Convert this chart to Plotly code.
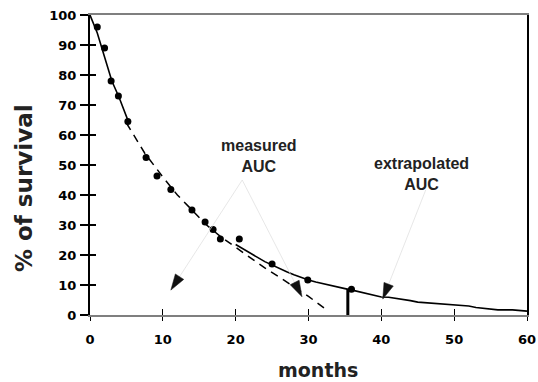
import plotly.graph_objects as go

# ---- data ----
obs_months = [1.0, 2.0, 2.9, 3.9, 5.2, 7.7, 9.2, 11.1, 14.0, 15.8, 16.9, 17.9, 20.5, 25.0, 29.9, 35.9]
obs_survival = [96, 89, 78, 73, 64.5, 52.5, 46.3, 41.8, 35, 31, 28.5, 25.3, 25.3, 17, 11.7, 8.6]

early_months = [0, 0.5, 1, 2, 3, 4, 5, 5.3]
early_survival = [100, 97, 94, 86, 78, 72.5, 66, 64.3]

late_months = [20, 21, 22, 23, 24, 25, 26, 27, 28, 29, 30, 31, 32, 33, 34, 35, 36, 38, 40, 41,
               42, 44, 45, 47, 49, 50, 52, 53, 55, 56, 58, 59, 60]
late_survival = [23.5, 22, 20.6, 19.2, 17.8, 16.6, 15.5, 14.4, 13.4, 12.5, 11.7, 11, 10.4, 9.8,
                 9.3, 8.8, 8.3, 7.2, 6, 5.9, 5.6, 4.8, 4.3, 4, 3.6, 3.3, 3, 2.5, 2.1, 1.7, 1.7, 1.5, 1.3]

fit_months = [5, 7.5, 10, 12, 14, 16, 18, 20, 22, 24, 26, 28, 30, 32.5]
fit_survival = [64, 54, 46, 40, 35, 30, 26, 22.5, 19, 15.7, 12.6, 9.4, 6.2, 1.7]

cutoff_month = 35.4
cutoff_survival = 8.7

x_ticks = [0, 10, 20, 30, 40, 50, 60]
y_ticks = [0, 10, 20, 30, 40, 50, 60, 70, 80, 90, 100]

# label anchors (data units) and arrow tips
measured_label = (20.9, 45)
extrap_label = (46.1, 41.7)
measured_tips = [(11.1, 8.3), (29.1, 6.1)]
extrap_tips = [(40.2, 5.3)]

# ---- geometry of plot area (px) ----
W, H = 538, 382
ML, MR, MT, MB = 90, 11, 15, 67
PW, PH = W - ML - MR, H - MT - MB
XR, YR = (0, 60), (0, 100)


def d2p(x, y):
    return (ML + (x - XR[0]) / (XR[1] - XR[0]) * PW,
            MT + PH - (y - YR[0]) / (YR[1] - YR[0]) * PH)


def p2d(px, py):
    return (XR[0] + (px - ML) / PW * (XR[1] - XR[0]),
            YR[0] + (MT + PH - py) / PH * (YR[1] - YR[0]))


def p2paper(px, py):
    return ((px - ML) / PW, (MT + PH - py) / PH)


def head_path(origin, tip, L=16, w=5):
    ox, oy = d2p(*origin)
    tx, ty = d2p(*tip)
    dx, dy = tx - ox, ty - oy
    n = (dx * dx + dy * dy) ** 0.5
    ux, uy = dx / n, dy / n
    bx, by = tx - L * ux, ty - L * uy
    c1 = p2d(bx - w * uy, by + w * ux)
    c2 = p2d(bx + w * uy, by - w * ux)
    return f"M {tip[0]} {tip[1]} L {c1[0]} {c1[1]} L {c2[0]} {c2[1]} Z"


fig = go.Figure()
fig.add_trace(go.Scatter(x=early_months, y=early_survival, mode="lines",
                         line=dict(color="black", width=1.6), hoverinfo="skip"))
fig.add_trace(go.Scatter(x=late_months, y=late_survival, mode="lines",
                         line=dict(color="black", width=1.6), hoverinfo="skip"))
fig.add_trace(go.Scatter(x=fit_months, y=fit_survival, mode="lines",
                         line=dict(color="black", width=1.5, dash="8px,6px"), hoverinfo="skip"))
fig.add_trace(go.Scatter(x=obs_months, y=obs_survival, mode="markers",
                         marker=dict(color="black", size=7), hoverinfo="skip"))
# invisible trace to activate overlay axes
fig.add_trace(go.Scatter(x=[None], y=[None], xaxis="x2", yaxis="y2", showlegend=False))

shapes = []
for origin, tips in ((measured_label, measured_tips), (extrap_label, extrap_tips)):
    for tip in tips:
        shapes.append(dict(type="line", xref="x", yref="y", x0=origin[0], y0=origin[1],
                           x1=tip[0], y1=tip[1], line=dict(color="#dcdcdc", width=0.7)))
        shapes.append(dict(type="path", xref="x", yref="y", path=head_path(origin, tip),
                           fillcolor="#111111", line=dict(color="#111111", width=0.5)))
shapes.append(dict(type="line", xref="x", yref="y", x0=cutoff_month, x1=cutoff_month,
                   y0=-1, y1=cutoff_survival, line=dict(color="black", width=3)))

ann_font = dict(family="Liberation Sans, Arial, sans-serif", size=16, color="#222222")
title_font_y = dict(family="DejaVu Sans, sans-serif", size=23, color="#222222")
title_font_x = dict(family="DejaVu Sans, sans-serif", size=19, color="#222222")
mx, my = p2d(259, 156)
ex, ey = p2d(421, 174)
ytx, yty = p2paper(24, 188)
xtx, xty = p2paper(318, 370)
annotations = [
    dict(x=mx, y=my, xref="x", yref="y", xanchor="center", yanchor="middle",
         text="<b>measured</b><br><b>AUC</b>", showarrow=False, font=ann_font, align="center"),
    dict(x=ex, y=ey, xref="x", yref="y", xanchor="center", yanchor="middle",
         text="<b>extrapolated</b><br><b>AUC</b>", showarrow=False, font=ann_font, align="center"),
    dict(x=ytx, y=yty, xref="paper", yref="paper", xanchor="center", yanchor="middle",
         text="<b>% of survival</b>", textangle=-90, showarrow=False, font=title_font_y),
    dict(x=xtx, y=xty, xref="paper", yref="paper", xanchor="center", yanchor="middle",
         text="<b>months</b>", showarrow=False, font=title_font_x),
]

tick_font = dict(family="DejaVu Sans, sans-serif", size=13, color="black", weight="bold")

fig.update_layout(
    width=W, height=H,
    margin=dict(l=ML, r=MR, t=MT, b=MB, autoexpand=False),
    paper_bgcolor="white", plot_bgcolor="white",
    showlegend=False,
    shapes=shapes,
    annotations=annotations,
    xaxis=dict(range=list(XR), tickvals=x_ticks, ticktext=[str(v) for v in x_ticks],
               automargin=False,
               showgrid=False, zeroline=False, showline=True, linecolor="#7f7f7f",
               linewidth=2, mirror=True, ticks="outside", ticklen=4, tickwidth=1,
               tickcolor="black", tickfont=tick_font, ticklabelstandoff=7),
    yaxis=dict(range=list(YR), tickvals=y_ticks, ticktext=[str(v) for v in y_ticks],
               automargin=False,
               showgrid=False, zeroline=False, showline=True, linecolor="black",
               linewidth=2, mirror=True, ticks="outside", ticklen=8, tickwidth=1.5,
               tickcolor="black", tickfont=tick_font, ticklabelstandoff=1),
    xaxis2=dict(range=list(XR), overlaying="x", anchor="y", side="bottom", tickvals=x_ticks,
                automargin=False,
                showticklabels=False, showgrid=False, zeroline=False, showline=False,
                ticks="inside", ticklen=6, tickwidth=1, tickcolor="black"),
    yaxis2=dict(range=list(YR), overlaying="y", anchor="x", side="left", tickvals=y_ticks,
                automargin=False,
                showticklabels=False, showgrid=False, zeroline=False, showline=False,
                ticks="inside", ticklen=6, tickwidth=1.5, tickcolor="black"),
)

fig.write_html("out.html", config={"displayModeBar": False},
               post_script="document.body.style.margin='0';document.body.style.overflow='hidden';")
